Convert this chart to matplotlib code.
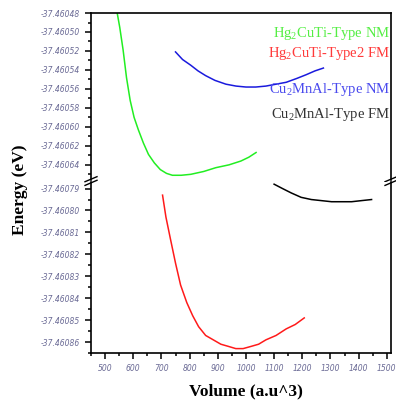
import numpy as np
import matplotlib.pyplot as plt
from matplotlib.ticker import MultipleLocator, FuncFormatter

# volume (a.u^3) and energy (eV)
v_hg_nm = [543, 552, 564, 576, 589, 603, 618, 636, 654, 675, 696, 718, 739, 770, 804, 850, 893, 940, 982, 1010, 1036]
e_hg_nm = [-37.46048, -37.460495, -37.460519, -37.460548, -37.460572, -37.46059, -37.460603, -37.460617, -37.460629,
           -37.460638, -37.460645, -37.460649, -37.460651, -37.460651, -37.46065, -37.460647, -37.460643, -37.46064,
           -37.460636, -37.460632, -37.460627]

v_cu_nm = [750, 775, 804, 830, 857, 890, 929, 965, 1000, 1035, 1071, 1107, 1143, 1180, 1214, 1245, 1275]
e_cu_nm = [-37.460521, -37.460529, -37.460535, -37.460541, -37.460546, -37.460551, -37.460555, -37.460557,
           -37.460558, -37.460558, -37.460557, -37.460555, -37.460553, -37.460549, -37.460545, -37.460541, -37.460538]

v_hg_fm = [704, 716, 732, 750, 768, 790, 811, 832, 857, 884, 911, 938, 964, 990, 1018, 1045, 1071, 1107, 1143, 1175, 1207]
e_hg_fm = [-37.460793, -37.460803, -37.460813, -37.460824, -37.460834, -37.460842, -37.460848, -37.460853, -37.460857,
           -37.460859, -37.460861, -37.460862, -37.460863, -37.460863, -37.460862, -37.460861, -37.460859, -37.460857,
           -37.460854, -37.460852, -37.460849]

v_cu_fm = [1100, 1130, 1161, 1196, 1232, 1268, 1304, 1340, 1375, 1410, 1446]
e_cu_fm = [-37.460788, -37.46079, -37.460792, -37.460794, -37.460795, -37.4607955, -37.460796, -37.460796,
           -37.460796, -37.4607955, -37.460795]

labels = ['Hg$_2$CuTi-Type NM', 'Hg$_2$CuTi-Type2 FM', 'Cu$_2$MnAl-Type NM', 'Cu$_2$MnAl-Type FM']
text_colors = ['#55ee44', '#ff3a3a', '#4a4aee', '#333333']

plt.rcParams['mathtext.fontset'] = 'custom'
plt.rcParams['mathtext.rm'] = 'Liberation Serif'
plt.rcParams['mathtext.it'] = 'Liberation Serif:italic'

fig = plt.figure(figsize=(3.96, 4.03), dpi=100)
ax_top = fig.add_axes([0.2298, 0.5533, 0.7576, 0.4144])
ax_bot = fig.add_axes([0.2298, 0.1241, 0.7576, 0.4243])

ax_top.plot(v_hg_nm, e_hg_nm, color='#22ee22', lw=1.1)
ax_top.plot(v_cu_nm, e_cu_nm, color='#1a1add', lw=1.1)
ax_bot.plot(v_hg_fm, e_hg_fm, color='#ff1a1a', lw=1.1)
ax_bot.plot(v_cu_fm, e_cu_fm, color='black', lw=1.1)

ax_top.set_ylim(-37.460656, -37.46048)
ax_bot.set_ylim(-37.460865, -37.460787)
for ax in (ax_top, ax_bot):
    ax.set_xlim(450, 1515)
    ax.xaxis.set_major_locator(MultipleLocator(100))
    ax.xaxis.set_minor_locator(MultipleLocator(50))
    ax.yaxis.set_major_formatter(FuncFormatter(lambda y, p: '%.5f' % y))
    ax.tick_params(which='major', length=4.5, width=1.1, labelsize=5.5, labelcolor='#6a6a95')
    ax.tick_params(which='minor', length=2.5, width=1.1)
    for s in ax.spines.values():
        s.set_linewidth(1.2)

ax_top.yaxis.set_major_locator(MultipleLocator(0.00002))
ax_top.yaxis.set_minor_locator(MultipleLocator(0.00001))
ax_bot.yaxis.set_major_locator(MultipleLocator(0.00001))
ax_bot.yaxis.set_minor_locator(MultipleLocator(0.000005))

ax_top.spines['bottom'].set_visible(False)
ax_top.tick_params(axis='x', which='both', bottom=False, labelbottom=False)
ax_bot.spines['top'].set_visible(False)
ax_bot.xaxis.set_major_formatter(FuncFormatter(lambda x, p: '%d' % x))
for lab in ax_top.get_yticklabels() + ax_bot.get_yticklabels() + ax_bot.get_xticklabels():
    lab.set_fontstyle('italic')

# break marks
for x in (0, 1):
    ax_top.plot([x - 0.02, x + 0.02], [-0.01, 0.02], color='black', lw=1, transform=ax_top.transAxes, clip_on=False)
    ax_bot.plot([x - 0.02, x + 0.02], [0.98, 1.01], color='black', lw=1, transform=ax_bot.transAxes, clip_on=False)

ys = [0.918, 0.868, 0.779, 0.717]
for lab, c, y in zip(labels, text_colors, ys):
    fig.text(0.985, y, lab, color=c, ha='right', va='center', family='Liberation Serif', fontsize=10.5)

fig.text(0.05, 0.53, 'Energy (eV)', rotation=90, ha='center', va='center', family='Liberation Serif',
         fontweight='bold', fontsize=12.5)
fig.text(0.62, 0.028, 'Volume (a.u^3)', ha='center', va='center', family='Liberation Serif',
         fontweight='bold', fontsize=12.5)

fig.savefig('out.png', dpi=100)
